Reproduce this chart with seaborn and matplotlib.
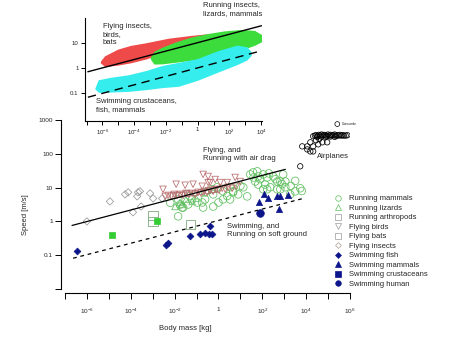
import numpy as np
import pandas as pd
import matplotlib
matplotlib.use("Agg")
import matplotlib.pyplot as plt
import seaborn as sns
from matplotlib.lines import Line2D

sns.set_theme(style="white")
plt.rcParams['font.family'] = ['Liberation Sans', 'DejaVu Sans']
plt.rcParams['mathtext.fontset'] = 'custom'
plt.rcParams['mathtext.rm'] = 'Liberation Sans'
plt.rcParams['mathtext.it'] = 'Liberation Sans:italic'
plt.rcParams['mathtext.bf'] = 'Liberation Sans:bold'

# ---------------- data (log10 mass [kg], log10 speed [m/s]) ----------------
running_mammals = [(-1.84, 0.65), (-1.75, 0.50), (-1.61, 0.41), (-1.38, 0.50), (-1.20, 0.65),
                   (-0.97, 0.56), (-0.74, 0.56), (-0.61, 0.65), (-1.84, 0.15), (-1.66, 0.41),
                   (-0.61, 0.86), (-0.24, 0.80), (-0.06, 1.01), (0.21, 0.89), (0.53, 1.01),
                   (0.67, 0.89), (1.13, 1.01), (1.45, 1.39), (1.58, 1.45), (1.81, 1.33),
                   (2.04, 1.39), (2.22, 1.30), (2.50, 1.33), (2.68, 1.18), (1.68, 1.18),
                   (1.81, 1.09), (2.13, 1.09), (2.36, 1.01), (2.68, 0.95), (2.04, 0.95),
                   (0.21, 0.65), (0.53, 0.65), (-0.24, 0.44), (-0.70, 0.41), (0.00, 0.56),
                   (0.67, 0.86), (1.31, 0.74), (2.22, 0.95), (2.82, 0.95), (3.05, 1.01),
                   (3.50, 0.89), (3.73, 0.98), (2.82, 1.18), (3.05, 1.18), (1.77, 1.48),
                   (3.27, 0.80), (2.95, 1.39), (1.90, 1.25), (2.30, 1.42), (2.60, 1.25),
                   (1.60, 1.30), (2.90, 1.10), (3.30, 1.05), (3.50, 1.20), (3.80, 0.90),
                   (-0.30, 0.95), (0.90, 0.80), (1.00, 1.05), (-2.20, 0.55), (-1.30, 0.75),
                   (0.40, 0.75)]
running_lizards = [(-1.75, 0.56), (-1.20, 0.59), (-1.66, 0.50), (-1.48, 0.65), (-1.98, 0.44),
                   (-1.02, 0.68)]
running_arthropods = [(-2.98, 0.18), (-2.98, 0.00), (-1.29, -0.09)]
flying_birds = [(-2.53, 0.95), (-1.93, 1.10), (-1.52, 1.07), (-1.16, 1.10), (-0.74, 1.04),
                (-0.47, 1.15), (-0.70, 1.39), (-0.47, 1.33), (-0.15, 1.24), (0.08, 1.15),
                (0.76, 1.30), (0.99, 1.18), (0.40, 1.15), (-0.38, 1.15),
                (-2.43, 0.74), (-2.30, 0.77), (-2.16, 0.74), (-2.02, 0.80), (-1.89, 0.77),
                (-1.75, 0.80), (-1.61, 0.77), (-1.48, 0.83), (-1.34, 0.80), (-1.20, 0.83),
                (-1.06, 0.80), (-0.93, 0.86), (-0.79, 0.83), (-0.65, 0.89), (-0.52, 0.86),
                (-0.38, 0.92), (-0.24, 0.89), (-0.11, 0.95), (0.03, 0.92), (0.17, 0.98),
                (0.31, 0.95), (0.44, 1.01), (0.63, 0.98), (0.81, 1.04)]
flying_bats = [(-2.10, 0.78), (-1.80, 0.80), (-1.45, 0.84), (-1.10, 0.86), (-0.80, 0.89),
               (-0.50, 0.93), (-0.20, 0.96)]
flying_insects = [(-6.00, 0.00), (-4.95, 0.59), (-4.26, 0.80), (-4.12, 0.86), (-3.71, 0.74),
                  (-3.67, 0.86), (-3.58, 0.89), (-3.90, 0.27), (-3.53, 0.44), (-3.12, 0.83),
                  (-2.98, 0.68), (-2.57, 0.68)]
swimming_fish = [(-6.45, -0.89), (-2.39, -0.71), (-2.30, -0.65), (-1.29, -0.44), (-0.84, -0.38),
                 (-0.61, -0.33), (-0.42, -0.38), (-0.29, -0.38), (-0.38, -0.15)]
swimming_mammals = [(1.86, 0.56), (2.09, 0.80), (2.27, 0.68), (2.68, 0.74), (2.82, 0.74),
                    (3.18, 0.77), (2.77, 0.38)]
swimming_crustaceans = [(-4.85, -0.40), (-2.80, 0.00)]
swimming_human = [(1.90, 0.24)]
airplanes = [(4.32, 2.52), (4.40, 2.54), (4.46, 2.55), (4.52, 2.53), (4.58, 2.56), (4.64, 2.54),
             (4.70, 2.57), (4.76, 2.54), (4.82, 2.56), (4.88, 2.55), (4.94, 2.53), (5.00, 2.57),
             (5.06, 2.54), (5.12, 2.56), (5.18, 2.54), (5.24, 2.55), (5.30, 2.57), (5.36, 2.53),
             (5.42, 2.55), (5.48, 2.54), (5.54, 2.56), (5.60, 2.54), (5.66, 2.55), (5.72, 2.54),
             (5.80, 2.54), (5.88, 2.55), (4.50, 2.50), (4.70, 2.51), (4.90, 2.50), (5.10, 2.51),
             (5.30, 2.50), (4.19, 2.34), (4.32, 2.22), (4.55, 2.28), (4.74, 2.34), (4.96, 2.34),
             (3.82, 2.22), (4.05, 2.13), (4.19, 2.07), (4.32, 2.07), (3.73, 1.63), (4.45, 2.40),
             (4.60, 2.44), (4.05, 2.22)]
concorde = [(5.42, 2.88)]

# fit lines (endpoints)
main_air_line = [(-6.68, -0.12), (3.05, 1.54)]
main_soft_line = [(-6.63, -1.09), (3.87, 0.68)]
inset_solid_line = [(-6.92, -0.15), (4.02, 1.69)]
inset_dashed_line = [(-6.92, -1.17), (4.02, 0.69)]

# inset regions: log mass grid, upper and lower log speed
red_logm = [-6.05, -5.8, -5.0, -4.2, -3.2, -1.8, -0.4, 0.7, 0.9]
red_up = [0.24, 0.44, 0.70, 0.85, 0.96, 1.14, 1.25, 1.32, 1.25]
red_lo = [0.20, 0.07, 0.13, 0.22, 0.38, 0.70, 1.00, 1.10, 1.18]
green_logm = [-2.9, -2.7, -2.2, -1.4, -0.4, 0.7, 1.7, 2.8, 3.6, 4.0, 4.1]
green_up = [0.40, 0.62, 0.78, 0.98, 1.18, 1.33, 1.43, 1.49, 1.45, 1.30, 1.15]
green_lo = [0.35, 0.17, 0.18, 0.24, 0.32, 0.43, 0.56, 0.74, 0.92, 1.05, 1.10]
cyan_logm = [-6.4, -6.2, -5.5, -4.3, -3.2, -2.2, -1.2, 0.0, 1.3, 2.5, 3.1, 3.35]
cyan_up = [-0.84, -0.52, -0.43, -0.32, -0.15, 0.05, 0.17, 0.32, 0.64, 0.86, 0.80, 0.62]
cyan_lo = [-0.84, -0.96, -0.95, -0.92, -0.85, -0.77, -0.72, -0.48, -0.15, 0.15, 0.33, 0.50]

main_xticks_exp = list(range(-7, 7))
main_yticks = [0.01, 0.1, 1, 10, 100, 1000]
main_yticklabels = ['', '0.1', '1', '10', '100', '1000']
inset_xticks_exp = list(range(-7, 5))
inset_yticks = [0.1, 1, 10]
inset_yticklabels = ['0.1', '1', '10']

GREEN = '#5fbf5f'
ARTH = '#7fa87f'
BIRD = '#b86a6a'
BAT = '#b07070'
GREY = '#9a9a9a'
NAVY = '#0c168a'


def to_df(pairs):
    a = np.asarray(pairs, dtype=float)
    return pd.DataFrame({'mass': 10.0 ** a[:, 0], 'speed': 10.0 ** a[:, 1]})


def scat(ax, pairs, marker, s, face, edge, lw=0.6, z=3):
    sns.scatterplot(data=to_df(pairs), x='mass', y='speed', ax=ax, marker=marker, s=s,
                    facecolor=face, edgecolor=edge, linewidth=lw, zorder=z, legend=False)


def exp_label(e):
    return '1' if e == 0 else r'$10^{%d}$' % e


fig = plt.figure(figsize=(4.69, 3.40), dpi=100)
fig.patch.set_facecolor('white')

# ---------------- main axes ----------------
ax = fig.add_axes([65 / 469, 1 - 289 / 340, 285 / 469, 169 / 340])
ax.set_xscale('log')
ax.set_yscale('log')
ax.set_facecolor('none')

scat(ax, running_mammals, 'o', 30, 'none', GREEN, 0.55)
scat(ax, running_lizards, '^', 22, 'none', GREEN, 0.55)
scat(ax, running_arthropods, 's', 45, 'none', ARTH, 0.6)
scat(ax, flying_insects, 'D', 14, 'none', GREY, 0.55)
scat(ax, flying_birds, 'v', 22, 'none', BIRD, 0.55)
scat(ax, flying_bats, 's', 14, 'none', BAT, 0.55)
scat(ax, swimming_crustaceans, 's', 14, '#33cc33', '#33cc33', 0.5)
scat(ax, swimming_fish, 'D', 12, NAVY, NAVY, 0.5)
scat(ax, swimming_mammals, '^', 20, NAVY, NAVY, 0.5)
scat(ax, swimming_human, 'o', 30, NAVY, NAVY, 0.5)
scat(ax, airplanes, 'o', 15, 'none', 'black', 0.55)
scat(ax, concorde, 'o', 12, 'none', 'black', 0.5)

la = np.asarray(main_air_line)
ax.plot(10 ** la[:, 0], 10 ** la[:, 1], color='black', lw=0.9, zorder=4)
ls_ = np.asarray(main_soft_line)
ax.plot(10 ** ls_[:, 0], 10 ** ls_[:, 1], color='black', lw=0.9, ls=(0, (3, 3)), zorder=4)

ax.set_xlim(1e-7, 1e6)
ax.set_ylim(1e-2, 1e3)
ax.set_xticks([10.0 ** e for e in main_xticks_exp])
ax.set_xticklabels([exp_label(e) if e % 2 == 0 else '' for e in main_xticks_exp])
ax.set_yticks(main_yticks)
ax.set_yticklabels(main_yticklabels)
ax.minorticks_off()
for side in ['top', 'right']:
    ax.spines[side].set_visible(False)
for side in ['left', 'bottom']:
    ax.spines[side].set_color('black')
    ax.spines[side].set_linewidth(0.8)
    ax.spines[side].set_position(('outward', 3))
ax.tick_params(axis='both', direction='out', length=4, width=0.7, color='black',
               labelsize=4.6, left=True, bottom=True)
ax.tick_params(axis='x', pad=6)
ax.tick_params(axis='y', pad=1.5)
ax.set_xlabel('Body mass [kg]', fontsize=5.5)
ax.set_ylabel('Speed [m/s]', fontsize=5.5)
ax.xaxis.set_label_coords((185 - 65) / 285, (289 - 325) / 169)
ax.yaxis.set_label_coords((29 - 65) / 285, (289 - 215) / 169)
ax.grid(False)

fig.text(203 / 469, 1 - 147 / 340, 'Flying, and\nRunning with air drag', fontsize=5.5,
         va='top', ha='left')
fig.text(227 / 469, 1 - 223 / 340, 'Swimming, and\nRunning on soft ground', fontsize=5.5,
         va='top', ha='left')
fig.text(317 / 469, 1 - 157 / 340, 'Airplanes', fontsize=5.5, va='center', ha='left')
fig.text(342 / 469, 1 - 124 / 340, 'Concorde', fontsize=2.5, va='center', ha='left')

# legend
handles = [
    Line2D([], [], ls='none', marker='o', ms=4, mfc='none', mec=GREEN, mew=0.5),
    Line2D([], [], ls='none', marker='^', ms=4, mfc='none', mec=GREEN, mew=0.5),
    Line2D([], [], ls='none', marker='s', ms=4, mfc='none', mec=GREY, mew=0.5),
    Line2D([], [], ls='none', marker='v', ms=4, mfc='none', mec=GREY, mew=0.5),
    Line2D([], [], ls='none', marker='s', ms=4, mfc='none', mec=GREY, mew=0.5),
    Line2D([], [], ls='none', marker='D', ms=3, mfc='none', mec='#b0a090', mew=0.5),
    Line2D([], [], ls='none', marker='D', ms=3, mfc=NAVY, mec=NAVY, mew=0.5),
    Line2D([], [], ls='none', marker='^', ms=4, mfc=NAVY, mec=NAVY, mew=0.5),
    Line2D([], [], ls='none', marker='s', ms=4, mfc=NAVY, mec=NAVY, mew=0.5),
    Line2D([], [], ls='none', marker='o', ms=4, mfc=NAVY, mec=NAVY, mew=0.5),
]
labels = ['Running mammals', 'Running lizards', 'Running arthropods', 'Flying birds',
          'Flying bats', 'Flying insects', 'Swimming fish', 'Swimming mammals',
          'Swimming crustaceans', 'Swimming human']
fig.legend(handles, labels, loc='upper left', bbox_to_anchor=(334 / 469, 1 - 195 / 340),
           frameon=False, fontsize=5.5, handlelength=1.0, handletextpad=0.9,
           labelspacing=0.28, borderpad=0, borderaxespad=0)

# ---------------- inset ----------------
axi = fig.add_axes([85 / 469, 1 - 121 / 340, 177 / 469, 103 / 340])
axi.set_xscale('log')
axi.set_yscale('log')
axi.set_facecolor('none')


def blob(axx, logm, up, lo, color):
    xs = np.concatenate([logm, logm[::-1]])
    ys = np.concatenate([up, lo[::-1]])
    axx.fill(10.0 ** xs, 10.0 ** ys, facecolor=color, edgecolor=color, lw=1.2,
             joinstyle='round', zorder=1)


blob(axi, np.array(red_logm), np.array(red_up), np.array(red_lo), '#ef4a4a')
blob(axi, np.array(green_logm), np.array(green_up), np.array(green_lo), '#3ddc3d')
blob(axi, np.array(cyan_logm), np.array(cyan_up), np.array(cyan_lo), '#35eded')

s1 = np.asarray(inset_solid_line)
axi.plot(10 ** s1[:, 0], 10 ** s1[:, 1], color='black', lw=1.0, zorder=3)
s2 = np.asarray(inset_dashed_line)
axi.plot(10 ** s2[:, 0], 10 ** s2[:, 1], color='black', lw=1.0, ls=(0, (6, 4)), zorder=3)

axi.set_xlim(10 ** -7.1, 10 ** 4.05)
axi.set_ylim(10 ** -2.12, 10 ** 2.0)
axi.set_xticks([10.0 ** e for e in inset_xticks_exp])
axi.set_xticklabels([exp_label(e) if e % 2 == 0 else '' for e in inset_xticks_exp])
axi.set_yticks(inset_yticks)
axi.set_yticklabels(inset_yticklabels)
axi.minorticks_off()
for side in ['top', 'right']:
    axi.spines[side].set_visible(False)
for side in ['left', 'bottom']:
    axi.spines[side].set_color('black')
    axi.spines[side].set_linewidth(0.8)
axi.tick_params(axis='both', direction='out', length=3, width=0.7, color='black',
                labelsize=4.4, left=True, bottom=True, pad=1.5)
axi.grid(False)

fig.text(103 / 469, 1 - 23 / 340, 'Flying insects,\nbirds,\nbats', fontsize=5.5,
         va='top', ha='left')
fig.text(203 / 469, 1 - 2 / 340, 'Running insects,\nlizards, mammals', fontsize=5.5,
         va='top', ha='left')
fig.text(96 / 469, 1 - 98 / 340, 'Swimming crustaceans,\nfish, mammals', fontsize=5.5,
         va='top', ha='left')

fig.savefig('out.png', dpi=100)
